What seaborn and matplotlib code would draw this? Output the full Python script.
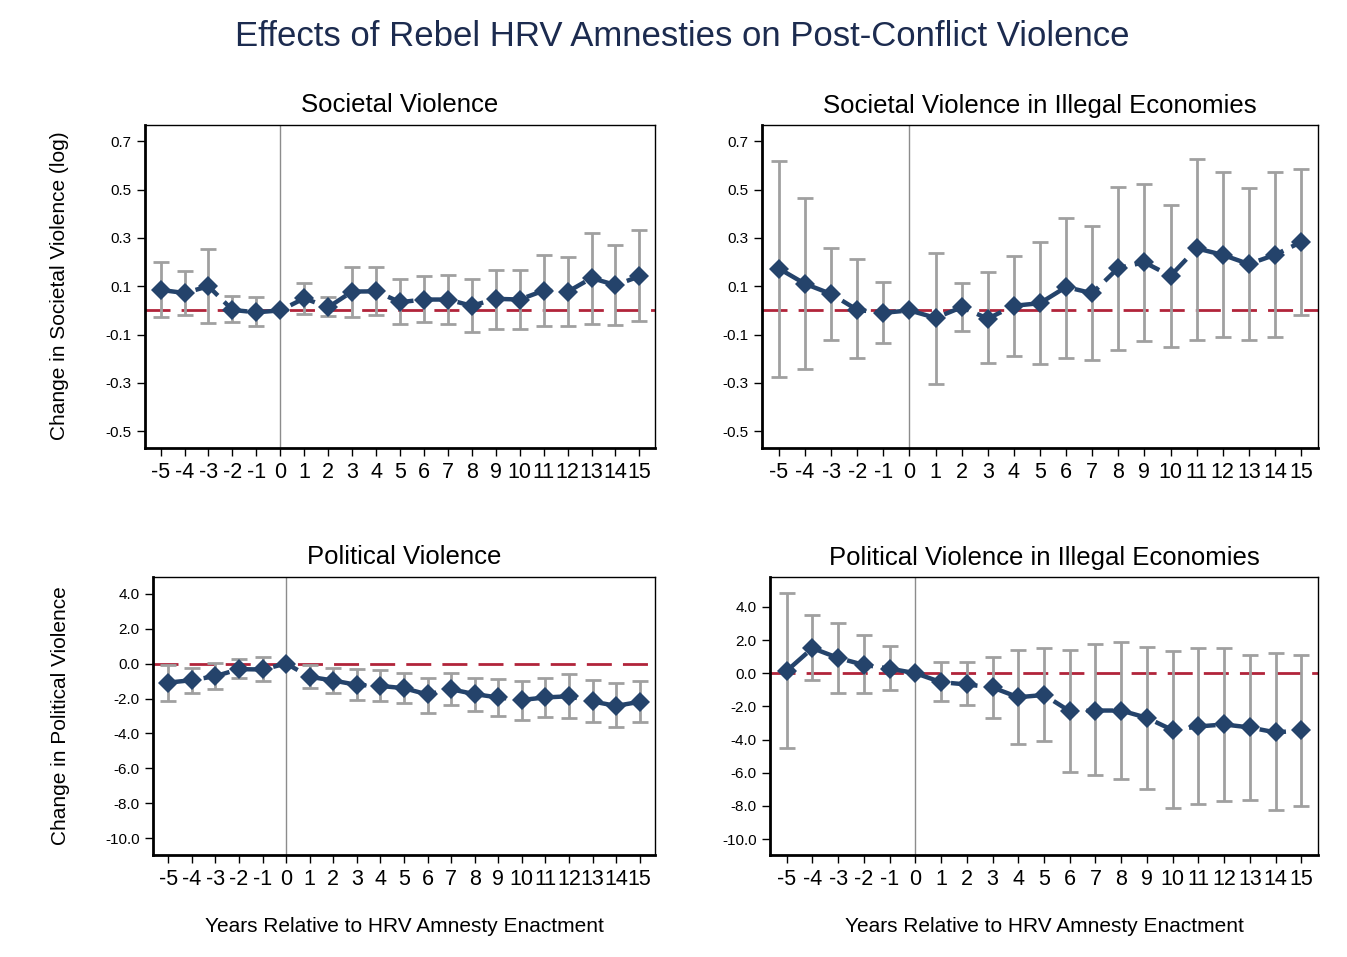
import numpy as np
import pandas as pd
import seaborn as sns
import matplotlib
matplotlib.use("Agg")
import matplotlib.pyplot as plt

years = list(range(-5, 16))

soc_coef = [0.085, 0.072, 0.100, 0.002, -0.008, 0.0, 0.050, 0.013, 0.078, 0.079, 0.034,
            0.045, 0.045, 0.019, 0.048, 0.045, 0.082, 0.077, 0.134, 0.105, 0.141]
soc_hi = [0.200, 0.165, 0.253, 0.059, 0.054, 0.0, 0.115, 0.055, 0.181, 0.181, 0.128,
          0.144, 0.148, 0.128, 0.169, 0.169, 0.231, 0.220, 0.322, 0.272, 0.332]
soc_lo = [-0.028, -0.020, -0.053, -0.049, -0.066, 0.0, -0.015, -0.025, -0.028, -0.020, -0.057,
          -0.049, -0.057, -0.090, -0.078, -0.078, -0.066, -0.066, -0.057, -0.061, -0.045]

socill_coef = [0.173, 0.110, 0.068, 0.002, -0.010, 0.0, -0.031, 0.013, -0.034, 0.019, 0.030,
               0.097, 0.071, 0.176, 0.199, 0.143, 0.257, 0.230, 0.192, 0.230, 0.283]
socill_hi = [0.620, 0.464, 0.257, 0.212, 0.119, 0.0, 0.239, 0.115, 0.157, 0.227, 0.285,
             0.384, 0.351, 0.512, 0.522, 0.435, 0.627, 0.575, 0.508, 0.575, 0.584]
socill_lo = [-0.274, -0.243, -0.121, -0.199, -0.136, 0.0, -0.303, -0.086, -0.219, -0.190, -0.224,
             -0.199, -0.206, -0.165, -0.125, -0.152, -0.121, -0.112, -0.121, -0.112, -0.021]

pol_coef = [-1.09, -0.95, -0.72, -0.32, -0.34, 0.0, -0.76, -0.97, -1.22, -1.28, -1.41,
            -1.77, -1.47, -1.75, -1.94, -2.08, -1.94, -1.87, -2.17, -2.42, -2.19]
pol_hi = [-0.06, -0.27, 0.02, 0.25, 0.36, 0.0, -0.11, -0.27, -0.32, -0.38, -0.55,
          -0.80, -0.55, -0.80, -0.90, -1.01, -0.80, -0.61, -0.95, -1.14, -1.01]
pol_lo = [-2.13, -1.68, -1.45, -0.82, -1.01, 0.0, -1.39, -1.68, -2.08, -2.13, -2.25,
          -2.84, -2.38, -2.70, -3.01, -3.22, -3.05, -3.10, -3.35, -3.62, -3.35]

polill_coef = [0.14, 1.51, 0.92, 0.50, 0.28, 0.0, -0.54, -0.68, -0.86, -1.45, -1.31,
               -2.29, -2.25, -2.25, -2.69, -3.43, -3.21, -3.09, -3.27, -3.57, -3.45]
polill_hi = [4.82, 3.51, 3.01, 2.29, 1.63, 0.0, 0.66, 0.66, 0.96, 1.37, 1.51,
             1.37, 1.77, 1.89, 1.57, 1.35, 1.51, 1.51, 1.08, 1.22, 1.08]
polill_lo = [-4.52, -0.42, -1.20, -1.20, -1.00, 0.0, -1.67, -1.93, -2.71, -4.26, -4.10,
             -5.94, -6.12, -6.39, -6.99, -8.13, -7.87, -7.69, -7.63, -8.23, -7.99]

titles = ["Societal Violence", "Societal Violence in Illegal Economies",
          "Political Violence", "Political Violence in Illegal Economies"]
main_title = "Effects of Rebel HRV Amnesties on Post-Conflict Violence"
ylab_top = "Change in Societal Violence (log)"
ylab_bot = "Change in Political Violence"
xlab = "Years Relative to HRV Amnesty Enactment"

small_ticks = [-0.5, -0.3, -0.1, 0.1, 0.3, 0.5, 0.7]
big_ticks = [-10, -8, -6, -4, -2, 0, 2, 4]

NAVY = "#24436b"
RED = "#b1243a"
GRAY = "#a0a0a0"

sns.set_theme(style="ticks")
plt.rcParams["font.family"] = ["Liberation Sans", "DejaVu Sans"]
plt.rcParams.update({"text.color": "black", "axes.labelcolor": "black",
                     "xtick.color": "black", "ytick.color": "black"})

W, H = 1347, 957
fig = plt.figure(figsize=(W / 100, H / 100), dpi=100)


def box(l, r, t, b):
    return [l / W, 1 - b / H, (r - l) / W, (b - t) / H]


panels = [
    (box(145, 655, 125, 448), soc_coef, soc_lo, soc_hi, (-0.57, 0.768), small_ticks),
    (box(762, 1318, 125, 448), socill_coef, socill_lo, socill_hi, (-0.57, 0.768), small_ticks),
    (box(153, 655, 577, 855), pol_coef, pol_lo, pol_hi, (-10.95, 4.95), big_ticks),
    (box(770, 1318, 577, 855), polill_coef, polill_lo, polill_hi, (-10.96, 5.8), big_ticks),
]

for i, (pos, coef, lo, hi, ylim, yt) in enumerate(panels):
    ax = fig.add_axes(pos)
    df = pd.DataFrame({"year": years, "coef": coef, "lo": lo, "hi": hi})
    ax.axvline(0, color="#8c8c8c", lw=1.0, zorder=1)
    ax.axhline(0, color=RED, lw=2.0, ls=(0, (9, 4)), zorder=2)
    err = np.array([df["coef"] - df["lo"], df["hi"] - df["coef"]])
    ax.errorbar(df["year"], df["coef"], yerr=err, fmt="none", ecolor=GRAY,
                elinewidth=2.0, capsize=6, capthick=2.0, zorder=3)
    sns.lineplot(data=df, x="year", y="coef", ax=ax, color=NAVY, lw=3.2,
                 marker="D", markersize=10, markeredgewidth=0, zorder=4)
    ax.lines[-1].set_linestyle((0, (6, 2)))
    ax.set_xlim(-5.65, 15.65)
    ax.set_ylim(*ylim)
    ax.set_xticks(years)
    ax.set_xticklabels([str(y) for y in years], fontsize=15.5)
    ax.set_yticks(yt)
    ax.set_yticklabels(["%.1f" % v for v in yt], fontsize=11)
    ax.tick_params(axis="both", direction="out", length=6, width=1, color="black",
                   labelcolor="black")
    ax.tick_params(axis="x", pad=4)
    ax.set_xlabel("")
    ax.set_ylabel("")
    for side in ["top", "right", "left", "bottom"]:
        ax.spines[side].set_visible(True)
        ax.spines[side].set_color("black")
    ax.spines["top"].set_linewidth(1.0)
    ax.spines["right"].set_linewidth(1.0)
    ax.spines["left"].set_linewidth(2.0)
    ax.spines["bottom"].set_linewidth(2.0)
    ax.set_title(titles[i], fontsize=18.5, color="black", pad=9)

fig.text(682 / W, 1 - 37 / H, main_title, ha="center", va="center", fontsize=25, color="#1c2b4f")
fig.text(60 / W, 1 - 286 / H, ylab_top, rotation=90, ha="center", va="center", fontsize=15)
fig.text(60 / W, 1 - 716 / H, ylab_bot, rotation=90, ha="center", va="center", fontsize=15)
fig.text(404 / W, 1 - 926 / H, xlab, ha="center", va="center", fontsize=15)
fig.text(1044 / W, 1 - 926 / H, xlab, ha="center", va="center", fontsize=15)

fig.savefig("out.png", dpi=100, facecolor="white")
